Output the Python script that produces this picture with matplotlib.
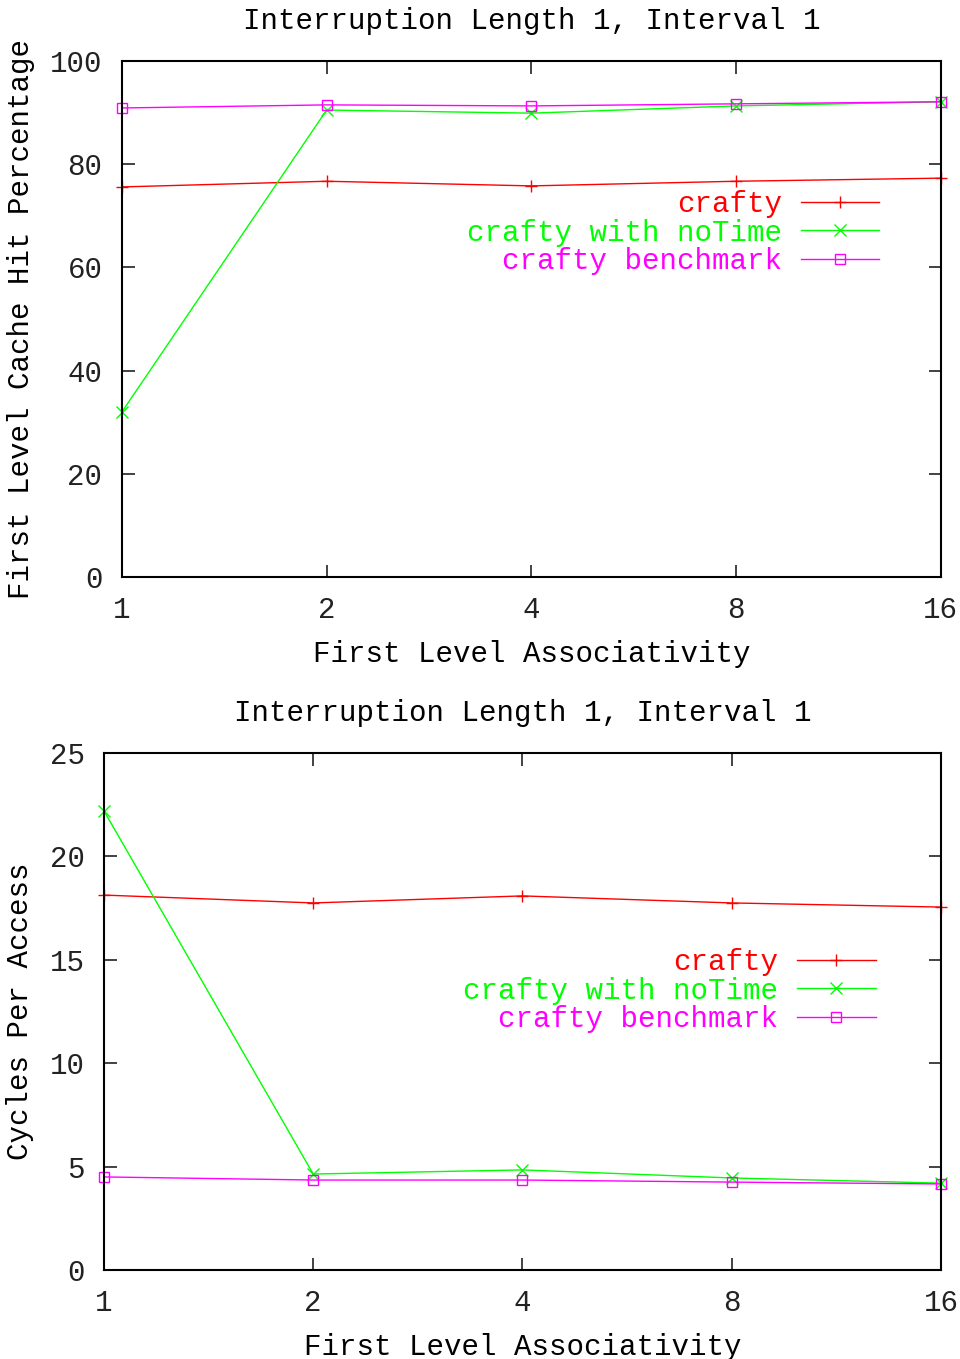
import matplotlib
matplotlib.use("Agg")
import matplotlib.pyplot as plt

plt.rcParams["font.family"] = ["Liberation Mono", "DejaVu Sans Mono"]
plt.rcParams["font.size"] = 21

assoc = ["1", "2", "4", "8", "16"]
title = "Interruption Length 1, Interval 1"
xlabel = "First Level Associativity"

# hit percentage (top panel)
hit_crafty = [75.6, 76.7, 75.8, 76.7, 77.3]
hit_notime = [32.0, 90.5, 89.9, 91.3, 92.1]
hit_bench = [90.9, 91.5, 91.3, 91.7, 92.1]

# cycles per access (bottom panel)
cpa_crafty = [18.13, 17.75, 18.09, 17.75, 17.55]
cpa_notime = [22.2, 4.64, 4.84, 4.45, 4.2]
cpa_bench = [4.5, 4.35, 4.35, 4.25, 4.16]

labels = ["crafty", "crafty with noTime", "crafty benchmark"]
colors = ["#ff0000", "#00ff00", "#ff00ff"]
markers = ["+", "x", "s"]

fig = plt.figure(figsize=(9.6, 13.59), dpi=100)
ax1 = fig.add_axes([0.127, 0.5754, 0.853, 0.3797])
ax2 = fig.add_axes([0.1083, 0.0655, 0.8719, 0.3804])

panels = [
    (ax1, [hit_crafty, hit_notime, hit_bench], "First Level Cache Hit Percentage",
     (0, 100), range(0, 101, 20), (0.925, 0.75)),
    (ax2, [cpa_crafty, cpa_notime, cpa_bench], "Cycles Per Access",
     (0, 25), range(0, 26, 5), (0.922, 0.623)),
]

xs = list(range(len(assoc)))
for ax, series, ylab, ylim, yticks, anchor in panels:
    for vals, lab, c, m in zip(series, labels, colors, markers):
        ax.plot(xs, vals, color=c, lw=1.0, marker=m, ms=8 if m != "s" else 7,
                mfc="none", mec=c, mew=1.0, label=lab, clip_on=False)
    ax.set_xlim(0, 4)
    ax.set_ylim(*ylim)
    ax.set_xticks(xs)
    ax.set_xticklabels(assoc)
    ax.set_yticks(list(yticks))
    ax.tick_params(direction="in", length=9, width=1.2, top=True, right=True,
                   pad=14, colors="#222222")
    for sp in ax.spines.values():
        sp.set_linewidth(1.5)
    ax.set_title(title, pad=23, fontsize=21)
    ax.set_xlabel(xlabel, labelpad=11)
    ax.set_ylabel(ylab, labelpad=11)
    ax.legend(loc="upper right", bbox_to_anchor=anchor, frameon=False,
              markerfirst=False, handlelength=2.7, handletextpad=0.65,
              labelspacing=0.02, labelcolor="linecolor", borderpad=0,
              borderaxespad=0)

fig.savefig("out.png", dpi=100)
